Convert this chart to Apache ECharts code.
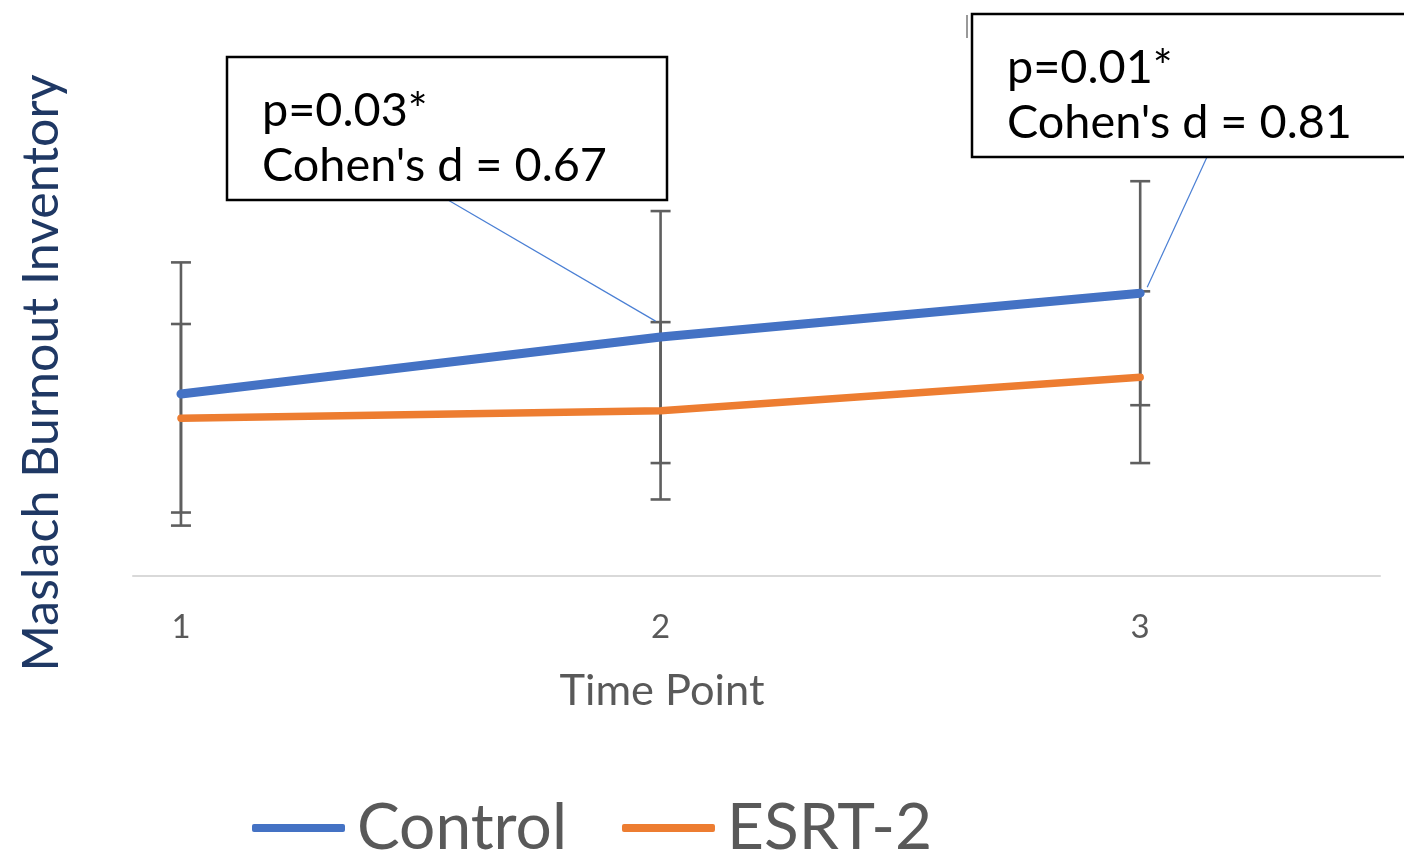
<!DOCTYPE html>
<html><head><meta charset="utf-8">
<script src="https://cdn.jsdelivr.net/npm/echarts@6/dist/echarts.min.js"></script>
<style>html,body{margin:0;padding:0;background:#fff}#c{width:1404px;height:854px}</style>
</head><body><div id="c"></div>
<script>
// ---- data ----
const timePoints = [1, 2, 3];
const controlMean = [19.5, 25.6, 30.3];
const controlSD = [14.1, 13.5, 12.0];
const esrtMean = [16.9, 17.7, 21.3];
const esrtSD = [10.1, 9.5, 9.2];
const seriesNames = ['Control', 'ESRT-2'];
const xAxisTitle = 'Time Point';
const yAxisTitle = 'Maslach Burnout Inventory';
const annotation1 = ['p=0.03*', "Cohen's d = 0.67"];
const annotation2 = ['p=0.01*', "Cohen's d = 0.81"];

// ---- styling helpers ----
const FONT = 'Lato';
const ctx = document.createElement('canvas').getContext('2d');
function fit(text, width) { ctx.font = '100px ' + FONT; return 100 * width / ctx.measureText(text).width; }

const annSize = fit(annotation1[1], 345);
const yTitleSize = fit(yAxisTitle, 597);
const xTitleSize = fit(xAxisTitle, 205);
const legendSize = fit(seriesNames[0], 210);

const chart = echarts.init(document.getElementById('c'));

function errorBar(name, means, sds) {
  return {
    type: 'custom', name: name + ' error', z: 1, silent: true,
    data: timePoints.map((t, i) => [t, means[i] - sds[i], means[i] + sds[i]]),
    renderItem: function (params, api) {
      const lo = api.coord([api.value(0), api.value(1)]);
      const hi = api.coord([api.value(0), api.value(2)]);
      const hw = 10;
      const st = { stroke: '#5f5f5f', lineWidth: 2.6 };
      return {
        type: 'group', children: [
          { type: 'line', shape: { x1: lo[0], y1: lo[1], x2: hi[0], y2: hi[1] }, style: st },
          { type: 'line', shape: { x1: lo[0] - hw, y1: lo[1], x2: lo[0] + hw, y2: lo[1] }, style: st },
          { type: 'line', shape: { x1: hi[0] - hw, y1: hi[1], x2: hi[0] + hw, y2: hi[1] }, style: st }
        ]
      };
    }
  };
}

const option = {
  animation: false,
  textStyle: { fontFamily: FONT },
  grid: { left: 133, right: 24, top: 16, bottom: 278, containLabel: false },
  xAxis: {
    type: 'value', min: 0.9, max: 3.5, interval: 0.1,
    axisLine: { show: true, lineStyle: { color: '#D9D9D9', width: 2 } },
    axisTick: { show: false }, splitLine: { show: false },
    axisLabel: {
      color: '#595959', fontSize: 33, fontFamily: FONT, margin: 35,
      showMinLabel: false, showMaxLabel: false,
      formatter: function (v) { return Math.abs(v - Math.round(v)) < 1e-6 ? String(Math.round(v)) : ''; }
    }
  },
  yAxis: { type: 'value', min: 0, max: 60, show: false },
  legend: {
    data: seriesNames, left: 252, top: 796, padding: 0, itemGap: 55,
    icon: 'roundRect', itemWidth: 93, itemHeight: 8,
    textStyle: { fontSize: legendSize, color: '#595959', fontFamily: FONT, lineHeight: 60, padding: [0, 0, 0, 7] }
  },
  series: [
    errorBar('Control', controlMean, controlSD),
    errorBar('ESRT-2', esrtMean, esrtSD),
    {
      name: seriesNames[0], type: 'line', z: 3, symbol: 'none',
      data: timePoints.map((t, i) => [t, controlMean[i]]),
      itemStyle: { color: '#4472C4' },
      lineStyle: { color: '#4472C4', width: 9, cap: 'round', join: 'round' }
    },
    {
      name: seriesNames[1], type: 'line', z: 3, symbol: 'none',
      data: timePoints.map((t, i) => [t, esrtMean[i]]),
      itemStyle: { color: '#ED7D31' },
      lineStyle: { color: '#ED7D31', width: 7.5, cap: 'round', join: 'round' }
    }
  ]
};
chart.setOption(option);

// annotations and titles
const p1 = chart.convertToPixel({ gridIndex: 0 }, [timePoints[1], esrtMean[1] + esrtSD[1]]);
const p2 = chart.convertToPixel({ gridIndex: 0 }, [timePoints[2], controlMean[2]]);

function box(x, y, w, h, lines) {
  return [
    { type: 'rect', shape: { x: x, y: y, width: w, height: h }, style: { fill: '#fff', stroke: '#000', lineWidth: 2.5 }, z: 10 },
    { type: 'text', x: x + 35, y: y + 54, z: 11, style: { text: lines[0], fontSize: annSize, fontFamily: FONT, fill: '#000', verticalAlign: 'middle', align: 'left' } },
    { type: 'text', x: x + 35, y: y + 109, z: 11, style: { text: lines[1], fontSize: annSize, fontFamily: FONT, fill: '#000', verticalAlign: 'middle', align: 'left' } }
  ];
}

chart.setOption({
  graphic: [
    { type: 'line', z: 9, shape: { x1: 448, y1: 200, x2: p1[0] - 5, y2: p1[1] - 1 }, style: { stroke: '#4a7fd4', lineWidth: 1.2 } },
    { type: 'line', z: 9, shape: { x1: 1207, y1: 157, x2: p2[0] + 7, y2: p2[1] - 6 }, style: { stroke: '#4a7fd4', lineWidth: 1.2 } },
    ...box(227, 57, 440, 143, annotation1),
    ...box(972, 14, 440, 143, annotation2),
    { type: 'line', z: 9, shape: { x1: 967, y1: 15, x2: 967, y2: 38 }, style: { stroke: '#777', lineWidth: 1.5 } },
    { type: 'text', x: 42, y: 373, rotation: Math.PI / 2, z: 5, style: { text: yAxisTitle, fontSize: yTitleSize, fontFamily: FONT, fill: '#1F3864', align: 'center', verticalAlign: 'middle' } },
    { type: 'text', x: 662, y: 691, z: 5, style: { text: xAxisTitle, fontSize: xTitleSize, fontFamily: FONT, fill: '#595959', align: 'center', verticalAlign: 'middle' } }
  ]
});
</script></body></html>
